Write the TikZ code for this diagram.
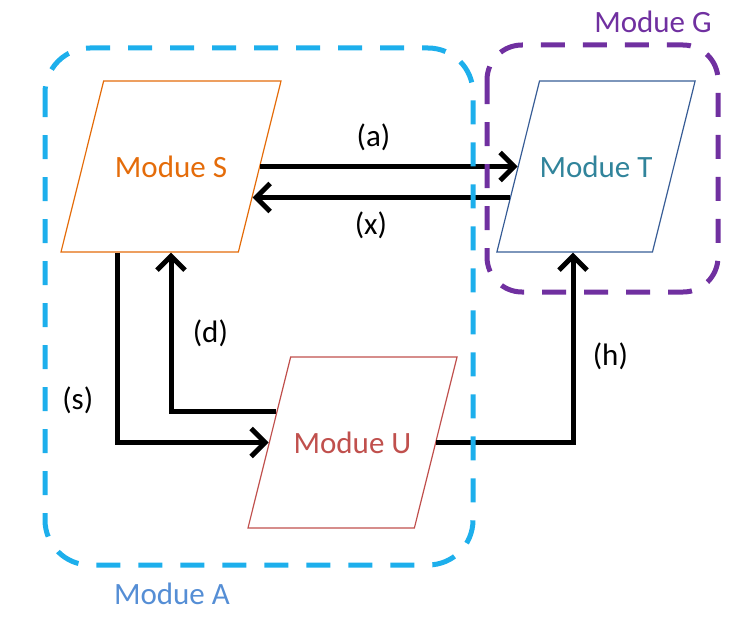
\documentclass[tikz,border=0pt]{standalone}
\usepackage{fontspec}
\setmainfont{Carlito}
\usetikzlibrary{calc, arrows.meta, shapes.geometric}
\definecolor{moduleA}{RGB}{29,175,236}
\definecolor{moduleAtext}{RGB}{85,142,213}
\definecolor{moduleG}{RGB}{112,48,160}
\definecolor{moduleS}{RGB}{228,108,10}
\definecolor{moduleTline}{RGB}{56,93,150}
\definecolor{moduleT}{RGB}{49,132,155}
\definecolor{moduleU}{RGB}{192,80,77}
\tikzset{
  module/.style={trapezium, trapezium left angle=76, trapezium right angle=104,
    trapezium stretches body=true, inner xsep=0pt, inner ysep=74.5pt,
    text height=22pt, text depth=0pt, line width=1.2pt},
  flow/.style={line width=5pt, -{Straight Barb[length=14pt,width=28pt]}},
  group/.style={line width=5pt, dash pattern=on 24pt off 18pt},
}

\begin{document}
\begin{tikzpicture}[x=1pt, y=-1pt, font=\fontsize{31}{36}\selectfont]
\useasboundingbox (0,0) rectangle (754,618);
% Modules
\node[module, draw=moduleS, text=moduleS, minimum width=220pt] (S) at (171,166.5) {Modue S};
\node[module, draw=moduleTline, text=moduleT, minimum width=194pt] (T) at (596,166.5) {Modue T};
\node[module, draw=moduleU, text=moduleU, minimum width=209pt] (U) at (352.5,442.5) {Modue U};
% Coordinates
\coordinate (S-return) at ($(S.bottom right corner)!0.32!(S.top right corner)$);
\coordinate (T-return) at ($(T.bottom left corner)!0.32!(T.top left corner)$);
\coordinate (U-up) at ($(U.bottom left corner)!0.68!(U.top left corner)$);
% Draw connectors
\draw[flow] (S.east) -- node[above=10pt, pos=0.44] {(a)} (T.west);
\draw[flow] (T-return) -- node[below=8pt, pos=0.54] {(x)} (S-return);
\draw[flow] ([xshift=-54pt]S.south) |- node[left=18pt, pos=0.39] {(s)} (U.west);
\draw[flow] (U-up) -| node[right=16pt, pos=0.745] {(d)} (S.south);
\draw[flow] (U.east) -| node[right=14pt, pos=0.726] {(h)} ([xshift=-23pt]T.south);
% Groups
\draw[group, draw=moduleA, rounded corners=45pt] (45,48) rectangle (473,565);
\draw[group, draw=moduleG, rounded corners=35pt] (487,45) rectangle (718,292);
\node[text=moduleAtext] (A-label) at (172,594) {Modue A};
\node[text=moduleG] (G-label) at (653,22) {Modue G};
\end{tikzpicture}
\end{document}
